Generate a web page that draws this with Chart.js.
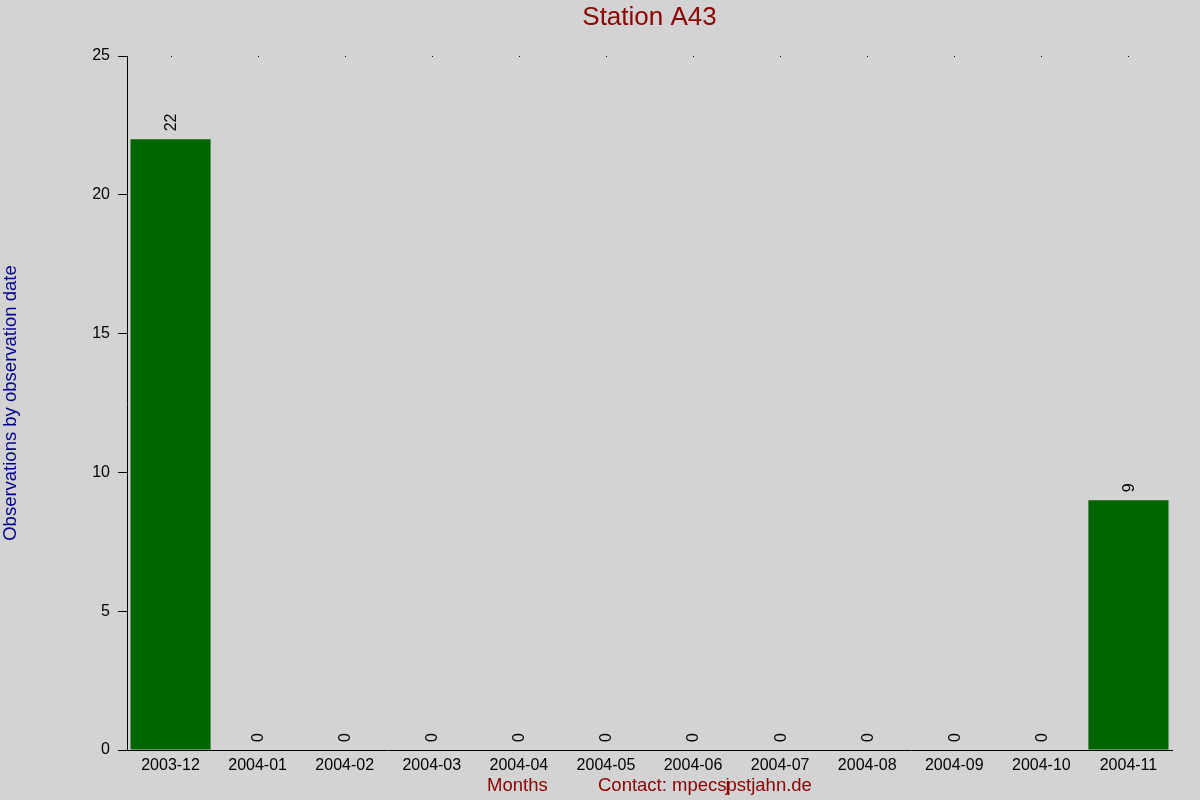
<!DOCTYPE html>
<html>
<head>
<meta charset="utf-8">
<script src="https://cdn.jsdelivr.net/npm/chart.js@4/dist/chart.umd.min.js"></script>
<style>
html, body { margin:0; padding:0; background:#d3d3d3; }
#wrap { width:1200px; height:800px; }
</style>
</head>
<body>
<div id="wrap"><canvas id="stationChart" width="1200" height="800"></canvas></div>
<script>

// Months on the x axis. 
const months = ['2003-12','2004-01','2004-02','2004-03','2004-04','2004-05','2004-06','2004-07','2004-08','2004-09','2004-10','2004-11'];

// Observations per month. 
const observations = [22, 0, 0, 0, 0, 0, 0, 0, 0, 0, 0, 9];

// Y axis range and step. 
const yMax = 25;
const yStep = 5;

const font = '"Liberation Sans", Arial, sans-serif';


// Draws page background, title, value labels, top dots and the bottom titles. 
const extras = {
	id:'extras',
	beforeDraw(chart) {
		const ctx = chart.ctx;
		ctx.save();
		ctx.fillStyle = '#d3d3d3';
		ctx.fillRect(0, 0, chart.width, chart.height);
		ctx.restore();
	},
	afterDatasetsDraw(chart) {
		const ctx = chart.ctx;
		const meta = chart.getDatasetMeta(0);
		const xs = chart.scales.x;
		const area = chart.chartArea;
		ctx.save();

		// Title, centred over the plot area. 
		ctx.font = '26px ' + font;
		ctx.fillStyle = '#8b0000';
		ctx.textAlign = 'center';
		ctx.textBaseline = 'middle';
		ctx.fillText('Station A43', (area.left + area.right) / 2, 18);

		// Small dots along the top edge, one per month. 
		ctx.fillStyle = '#000';
		months.forEach((m, i) => {
			ctx.fillRect(Math.round(xs.getPixelForValue(i)), area.top, 1, 1);
		});

		// Rotated value labels above each bar. 
		ctx.font = '16px ' + font;
		ctx.fillStyle = '#000';
		ctx.textAlign = 'left';
		ctx.textBaseline = 'middle';
		meta.data.forEach((bar, i) => {
			ctx.save();
			ctx.translate(bar.x + 1, bar.y - 8);
			ctx.rotate(-Math.PI / 2);
			ctx.fillText(String(observations[i]), 0, 0);
			ctx.restore();
		});

		// Bottom titles. 
		ctx.font = '18.5px ' + font;
		ctx.fillStyle = '#8b0000';
		ctx.textBaseline = 'middle';
		ctx.textAlign = 'left';
		ctx.fillText('Months', 487, 786);
		const head = 'Contact: mpecs';
		ctx.fillText(head + 'pstjahn.de', 598, 786);
		ctx.fillText('j', 598 + ctx.measureText(head).width - 1, 786);
		ctx.restore();
	}
};


const chart = {
	type:'bar',
	data:{
		labels:months,
		datasets:[
			{
				label:'Observations',
				backgroundColor:'#006400',
				data:observations,
				categoryPercentage:1,
				barPercentage:0.92
			}
		]
	},
	options:{
		responsive:false,
		animation:false,
		layout:{ padding:{ left:0, right:28, top:56, bottom:0 } },
		plugins:{
			legend:{ display:false },
			tooltip:{ enabled:false }
		},
		scales:{
			x:{
				grid:{ display:false, drawTicks:false },
				border:{ display:true, color:'#000', width:1 },
				ticks:{ color:'#000', font:{ family:font, size:16 }, padding:6, maxRotation:0, autoSkip:false },
				afterFit(s) { s.height = 50; }
			},
			y:{
				min:0,
				max:yMax,
				grid:{ display:true, drawOnChartArea:false, drawTicks:true, tickLength:9, color:'#000' },
				border:{ display:true, color:'#000', width:1 },
				ticks:{ stepSize:yStep, color:'#000', font:{ family:font, size:16 }, padding:8 },
				title:{
					display:true,
					text:'Observations by observation date',
					color:'#00008b',
					font:{ family:font, size:18.5 },
					padding:{ top:0, bottom:0 }
				},
				afterFit(s) { s.width = 127; }
			}
		}
	},
	plugins:[extras]
};

const stationChart = new Chart(document.getElementById('stationChart').getContext('2d'), chart);
</script>
</body>
</html>
